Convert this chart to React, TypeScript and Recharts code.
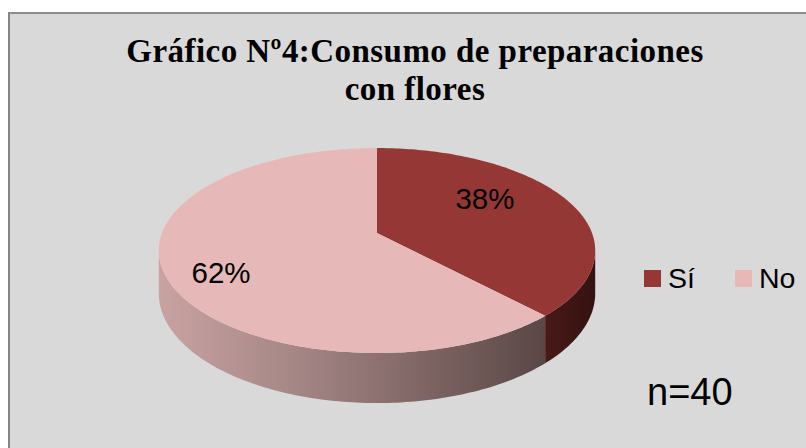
import React from 'react'
import { Legend, Pie, PieChart } from 'recharts'

// chart values
const categories = ['Sí', 'No']
const shares = [38, 62]
const sampleSize = 40
const titleLines = ['Gráfico Nº4:Consumo de preparaciones', 'con flores']

const data = categories.map((name, i) => ({ name, value: shares[i] }))

const topColors = ['#953735', '#e6b9b8']
const sideFills = ['url(#sideSi)', 'url(#sideNo)']

// 3D look of the pie (perspective projection of a flat disc)
const RX = 215 // horizontal radius
const RZ = 99.5 // vertical squash
const P = 0.171 // perspective strength
const DEPTH = 41.5 // thickness of the disc
const SIL = (Math.asin(P) * 180) / Math.PI // angle where the rim turns away
const LABEL_SHIFT = -24

const project = (cx: number, cy: number, deg: number, t: number, drop = 0) => {
    const r = (deg * Math.PI) / 180
    const X = t * Math.cos(r)
    const Z = t * Math.sin(r)
    const w = 1 + P * Z
    return [cx + (RX * X) / w, cy - (RZ * Z) / w + drop / w]
}

const arcPoints = (cx: number, cy: number, from: number, to: number, drop = 0) => {
    const n = Math.max(2, Math.ceil(Math.abs(to - from)) + 1)
    const pts: number[][] = []
    for (let i = 0; i < n; i++) {
        pts.push(project(cx, cy, from + ((to - from) * i) / (n - 1), 1, drop))
    }
    return pts
}

const toPath = (pts: number[][]) => pts.map((p, i) => `${i ? 'L' : 'M'}${p[0].toFixed(2)},${p[1].toFixed(2)}`).join(' ') + ' Z'

// top face of a slice
const TopShape = (props: any) => {
    const { cx, cy, startAngle, endAngle, index } = props
    const pts = [[cx, cy], ...arcPoints(cx, cy, startAngle, endAngle)]
    return <path d={toPath(pts)} fill={topColors[index ?? 0]} stroke="none" />
}

// front wall of a slice
const SideShape = (props: any) => {
    const { cx, cy, startAngle, endAngle, index } = props
    const lo = Math.min(startAngle, endAngle)
    const hi = Math.max(startAngle, endAngle)
    const paths: string[] = []
    for (let k = -2; k <= 1; k++) {
        const a = -180 + SIL + 360 * k
        const b = -SIL + 360 * k
        const l = Math.max(lo, a)
        const h = Math.min(hi, b)
        if (h > l) {
            const top = arcPoints(cx, cy, h, l)
            const bottom = arcPoints(cx, cy, l, h, DEPTH)
            paths.push(toPath([...top, ...bottom]))
        }
    }
    return (
        <g>
            {paths.map((d, i) => (
                <path d={d} fill={sideFills[index ?? 0]} key={i} stroke="none" />
            ))}
        </g>
    )
}

const renderLabel = (props: any) => {
    const { cx, cy, midAngle, value } = props
    const r = (midAngle * Math.PI) / 180
    const x = cx + LABEL_SHIFT + RX * 0.66 * Math.cos(r)
    const y = project(cx, cy, midAngle, 1)[1]
    return (
        <text dy="0.36em" fill="#000" fontFamily="Liberation Sans, Arial" fontSize={29.5} textAnchor="middle" x={x} y={y}>
            {`${value}%`}
        </text>
    )
}

const LegendContent = () => (
    <div style={{ display: 'flex', alignItems: 'center' }}>
        {categories.map((name, i) => (
            <div key={name} style={{ display: 'flex', alignItems: 'center', marginRight: i === 0 ? 40 : 0 }}>
                <div style={{ width: 17, height: 17, background: topColors[i], marginRight: 7 }} />
                <span style={{ fontFamily: 'Liberation Sans, Arial', fontSize: 28.5, lineHeight: '28px', color: '#000' }}>{name}</span>
            </div>
        ))}
    </div>
)

export default function App() {
    return (
        <div style={{ position: 'absolute', left: 0, top: 0, width: 806, height: 448, overflow: 'hidden', background: '#fff' }}>
            <div
                style={{
                    position: 'absolute',
                    left: 8,
                    top: 12,
                    width: 820,
                    height: 460,
                    background: '#d9d9d9',
                    borderLeft: '2px solid #858585',
                    borderTop: '2px solid #8c8c8c',
                }}
            />
            <div
                style={{
                    position: 'absolute',
                    left: 15,
                    top: 32,
                    width: 800,
                    textAlign: 'center',
                    fontFamily: 'Liberation Serif, Times New Roman',
                    fontWeight: 'bold',
                    fontSize: 33,
                    letterSpacing: 0.45,
                    lineHeight: '38px',
                    color: '#000',
                }}
            >
                {titleLines[0]}
                <br />
                {titleLines[1]}
            </div>
            <div style={{ position: 'absolute', left: 0, top: 0 }}>
                <PieChart height={448} margin={{ top: 0, right: 0, bottom: 0, left: 0 }} width={806}>
                    <defs>
                        <linearGradient gradientUnits="userSpaceOnUse" id="sideNo" x1={158} x2={596} y1={0} y2={0}>
                            <stop offset="0" stopColor="#c9a3a2" />
                            <stop offset="0.3" stopColor="#a68887" />
                            <stop offset="0.62" stopColor="#7d6463" />
                            <stop offset="0.88" stopColor="#5a4846" />
                            <stop offset="1" stopColor="#4e3d3b" />
                        </linearGradient>
                        <linearGradient gradientUnits="userSpaceOnUse" id="sideSi" x1={540} x2={596} y1={0} y2={0}>
                            <stop offset="0" stopColor="#4a1a18" />
                            <stop offset="1" stopColor="#341211" />
                        </linearGradient>
                    </defs>
                    <Pie
                        cx={377}
                        cy={233}
                        data={data}
                        dataKey="value"
                        endAngle={-270}
                        isAnimationActive={false}
                        legendType="none"
                        nameKey="name"
                        outerRadius={RX}
                        shape={SideShape}
                        startAngle={90}
                        stroke="none"
                    />
                    <Pie
                        cx={377}
                        cy={233}
                        data={data}
                        dataKey="value"
                        endAngle={-270}
                        isAnimationActive={false}
                        label={renderLabel}
                        labelLine={false}
                        nameKey="name"
                        outerRadius={RX}
                        shape={TopShape}
                        startAngle={90}
                        stroke="none"
                    />
                    <Legend
                        align="right"
                        content={<LegendContent />}
                        layout="vertical"
                        verticalAlign="middle"
                        wrapperStyle={{ left: 644, top: 264, width: 170, right: 'auto', bottom: 'auto' }}
                    />
                </PieChart>
            </div>
            <div
                style={{
                    position: 'absolute',
                    left: 647,
                    top: 373,
                    fontFamily: 'Liberation Sans, Arial',
                    fontSize: 38,
                    lineHeight: '38px',
                    color: '#000',
                }}
            >
                {`n=${sampleSize}`}
            </div>
        </div>
    )
}
